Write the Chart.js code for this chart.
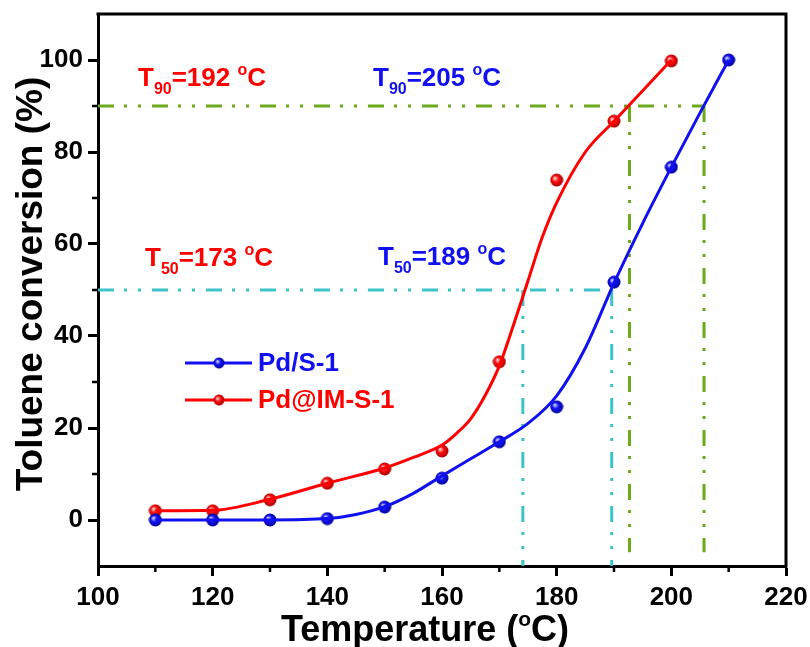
<!DOCTYPE html>
<html>
<head>
<meta charset="utf-8">
<script src="https://cdn.jsdelivr.net/npm/chart.js@4"></script>
<style>
  html, body { margin: 0; padding: 0; background: #fff; }
  #wrap { width: 810px; height: 647px; }
</style>
</head>
<body>
<div id="wrap"><canvas id="chart-canvas" width="810" height="647"></canvas></div>
<script>
// measured points: temperature (°C) and toluene conversion (%)
const temps = [110, 120, 130, 140, 150, 160, 170, 180, 190, 200, 210]
const pdS1 = [0, 0, 0, 0.3, 2.8, 9.1, 17, 24.6, 51.7, 76.7, 100]
const pdIM = [2, 2, 4.4, 8, 11.1, 15, 34.4, 73.9, 86.7, 99.8]
const seriesNames = ['Pd/S-1', 'Pd@IM-S-1']

// smoothed fit curves
const fitTempsS1 = [110, 120, 130, 140, 145, 150, 155, 160, 165, 170, 175, 180, 185, 190, 195, 200, 205, 210]
const fitS1 = [0, 0, 0, 0.3, 1.2, 2.9, 5.8, 9.6, 13.3, 17, 21, 27, 37.4, 51.5, 64.5, 76.7, 88.5, 100]
const fitTempsIM = [110, 120, 130, 140, 150, 155, 160, 162.5, 165, 167.5, 170, 172.5, 175, 177.5, 180, 185, 190, 195, 200]
const fitIM = [2, 2.1, 4.5, 8, 11.3, 13.6, 16.3, 18.8, 22, 27, 33.5, 42.5, 52, 61.5, 69, 80, 86.7, 93.3, 100]

const xTicks = [100, 120, 140, 160, 180, 200, 220]
const yTicks = [0, 20, 40, 60, 80, 100]

// guide lines: T50 and T90
const t50Level = 50
const t50Temps = [174.1, 189.6]
const t90Level = 90
const t90Temps = [192.7, 205.7]

// annotation text: subscript and value
const noteSubs = ['90', '90', '50', '50']
const noteVals = ['192', '205', '173', '189']

const FONT = "'Liberation Sans', Arial, sans-serif"
const RED = '#ff0000'
const BLUE = '#1010f0'
const CYAN = '#3cc3c6'
const GREEN = '#6caa1c'

function sphere(color, light, dark) {
  const c = document.createElement('canvas')
  c.width = 14
  c.height = 14
  const g = c.getContext('2d')
  const grad = g.createRadialGradient(5, 5, 0.5, 7, 7, 7)
  grad.addColorStop(0, light)
  grad.addColorStop(0.4, color)
  grad.addColorStop(1, dark)
  g.fillStyle = grad
  g.beginPath()
  g.arc(7, 7, 6.5, 0, Math.PI * 2)
  g.fill()
  return c
}

const blueBall = sphere('#1414f5', '#c8d0ff', '#000090')
const redBall = sphere('#ff1010', '#ffd0d0', '#a00000')

function toPoints(xs, ys) {
  return ys.map((y, i) => ({ x: xs[i], y: y }))
}

function dashed(ctx, color, pts) {
  ctx.save()
  ctx.strokeStyle = color
  ctx.lineWidth = 3
  ctx.setLineDash([16, 10, 3, 11, 3, 11])
  ctx.beginPath()
  ctx.moveTo(pts[0][0], pts[0][1])
  ctx.lineTo(pts[1][0], pts[1][1])
  ctx.stroke()
  ctx.restore()
}

// T with subscript and °C with raised o
function drawNote(ctx, x, base, sub, val, color) {
  ctx.save()
  ctx.fillStyle = color
  ctx.textBaseline = 'alphabetic'
  ctx.textAlign = 'left'
  ctx.font = 'bold 26px ' + FONT
  ctx.fillText('T', x, base)
  x += ctx.measureText('T').width
  ctx.font = 'bold 16px ' + FONT
  ctx.fillText(sub, x, base + 8)
  x += ctx.measureText(sub).width
  ctx.font = 'bold 26px ' + FONT
  const mid = '=' + val + ' '
  ctx.fillText(mid, x, base)
  x += ctx.measureText(mid).width
  ctx.font = 'bold 16px ' + FONT
  ctx.fillText('o', x, base - 11)
  x += ctx.measureText('o').width
  ctx.font = 'bold 26px ' + FONT
  ctx.fillText('C', x, base)
  ctx.restore()
}

const decor = {
  id: 'decor',
  beforeDatasetsDraw(chart) {
    const { ctx, scales: { x, y } } = chart
    const left = x.getPixelForValue(100)
    const bottom = y.getPixelForValue(-10)
    // T50 guides
    dashed(ctx, CYAN, [[left, y.getPixelForValue(t50Level)], [x.getPixelForValue(t50Temps[1]), y.getPixelForValue(t50Level)]])
    t50Temps.forEach(t => {
      dashed(ctx, CYAN, [[x.getPixelForValue(t), y.getPixelForValue(t50Level)], [x.getPixelForValue(t), bottom]])
    })
    // T90 guides
    dashed(ctx, GREEN, [[left, y.getPixelForValue(t90Level)], [x.getPixelForValue(t90Temps[1]), y.getPixelForValue(t90Level)]])
    t90Temps.forEach(t => {
      dashed(ctx, GREEN, [[x.getPixelForValue(t), y.getPixelForValue(t90Level)], [x.getPixelForValue(t), y.getPixelForValue(-7)]])
    })
  },
  afterDraw(chart) {
    const { ctx, chartArea: a, scales: { x, y } } = chart
    ctx.save()
    // frame (top and right)
    ctx.strokeStyle = '#000'
    ctx.lineWidth = 3
    ctx.beginPath()
    ctx.moveTo(a.left - 1.5, a.top)
    ctx.lineTo(a.right, a.top)
    ctx.lineTo(a.right, a.bottom + 1.5)
    ctx.stroke()
    // minor ticks
    ctx.lineWidth = 2.5
    ctx.beginPath()
    for (let v = 110; v < 220; v += 20) {
      const px = x.getPixelForValue(v)
      ctx.moveTo(px, a.bottom)
      ctx.lineTo(px, a.bottom + 6)
    }
    for (let v = 10; v < 110; v += 20) {
      const py = y.getPixelForValue(v)
      ctx.moveTo(a.left, py)
      ctx.lineTo(a.left - 6, py)
    }
    ctx.stroke()

    // legend
    const rows = [[363, BLUE, blueBall, seriesNames[0]], [400, RED, redBall, seriesNames[1]]]
    rows.forEach(([ly, col, ball, name]) => {
      ctx.strokeStyle = col
      ctx.lineWidth = 3
      ctx.beginPath()
      ctx.moveTo(185, ly)
      ctx.lineTo(252, ly)
      ctx.stroke()
      ctx.drawImage(ball, 219 - 6, ly - 6, 12, 12)
      ctx.fillStyle = col
      ctx.font = 'bold 26px ' + FONT
      ctx.textBaseline = 'middle'
      ctx.fillText(name, 258, ly + 1)
    })

    // T50 / T90 notes
    const nx = [138, 373, 145, 378]
    const nb = [86, 86, 266, 265]
    const nc = [RED, BLUE, RED, BLUE]
    noteSubs.forEach((s, i) => drawNote(ctx, nx[i], nb[i], s, noteVals[i], nc[i]))

    // axis titles
    ctx.fillStyle = '#000'
    ctx.textBaseline = 'alphabetic'
    ctx.font = 'bold 36px ' + FONT
    const t1 = 'Temperature ('
    const w1 = ctx.measureText(t1).width
    ctx.font = 'bold 21px ' + FONT
    const wo = ctx.measureText('o').width
    ctx.font = 'bold 36px ' + FONT
    const w2 = ctx.measureText('C)').width
    let tx = 425 - (w1 + wo + w2) / 2
    ctx.textAlign = 'left'
    ctx.fillText(t1, tx, 641)
    tx += w1
    ctx.font = 'bold 21px ' + FONT
    ctx.fillText('o', tx, 626)
    tx += wo
    ctx.font = 'bold 36px ' + FONT
    ctx.fillText('C)', tx, 641)

    ctx.translate(42, 284)
    ctx.rotate(-Math.PI / 2)
    ctx.textAlign = 'center'
    ctx.font = 'bold 37px ' + FONT
    ctx.fillText('Toluene conversion (%)', 0, 0)
    ctx.restore()
  }
}

const ctx = document.querySelector('#chart-canvas')
const chart = new Chart(ctx, {
  type: 'line',
  data: {
    datasets: [
      {
        label: seriesNames[0] + ' fit',
        data: toPoints(fitTempsS1, fitS1),
        borderColor: BLUE,
        borderWidth: 3,
        pointRadius: 0,
        cubicInterpolationMode: 'monotone',
        fill: false
      },
      {
        label: seriesNames[1] + ' fit',
        data: toPoints(fitTempsIM, fitIM),
        borderColor: RED,
        borderWidth: 3,
        pointRadius: 0,
        cubicInterpolationMode: 'monotone',
        fill: false
      },
      {
        label: seriesNames[0],
        data: toPoints(temps, pdS1),
        showLine: false,
        pointStyle: blueBall,
        borderColor: BLUE
      },
      {
        label: seriesNames[1],
        data: toPoints(temps, pdIM),
        showLine: false,
        pointStyle: redBall,
        borderColor: RED
      }
    ]
  },
  options: {
    responsive: false,
    animation: false,
    layout: { padding: { top: 14, right: 24, left: 0, bottom: 0 } },
    plugins: { legend: { display: false }, tooltip: { enabled: false } },
    scales: {
      x: {
        type: 'linear',
        min: 100,
        max: 220,
        afterFit: s => { s.height = 81; s.paddingLeft = 0; s.paddingRight = 0 },
        afterBuildTicks: s => { s.ticks = xTicks.map(v => ({ value: v })) },
        grid: { drawOnChartArea: false, drawTicks: true, tickLength: 10, tickWidth: 3, tickColor: '#000' },
        border: { display: true, width: 3, color: '#000' },
        ticks: { color: '#000', font: { family: FONT, size: 26, weight: 'bold' }, padding: 6, maxRotation: 0 }
      },
      y: {
        min: -10,
        max: 110,
        afterFit: s => { s.width = 98; s.paddingTop = 0; s.paddingBottom = 0 },
        afterBuildTicks: s => { s.ticks = yTicks.map(v => ({ value: v })) },
        grid: { drawOnChartArea: false, drawTicks: true, tickLength: 10, tickWidth: 3, tickColor: '#000' },
        border: { display: true, width: 3, color: '#000' },
        ticks: { color: '#000', font: { family: FONT, size: 26, weight: 'bold' }, padding: 5 }
      }
    }
  },
  plugins: [decor]
})
</script>
</body>
</html>
